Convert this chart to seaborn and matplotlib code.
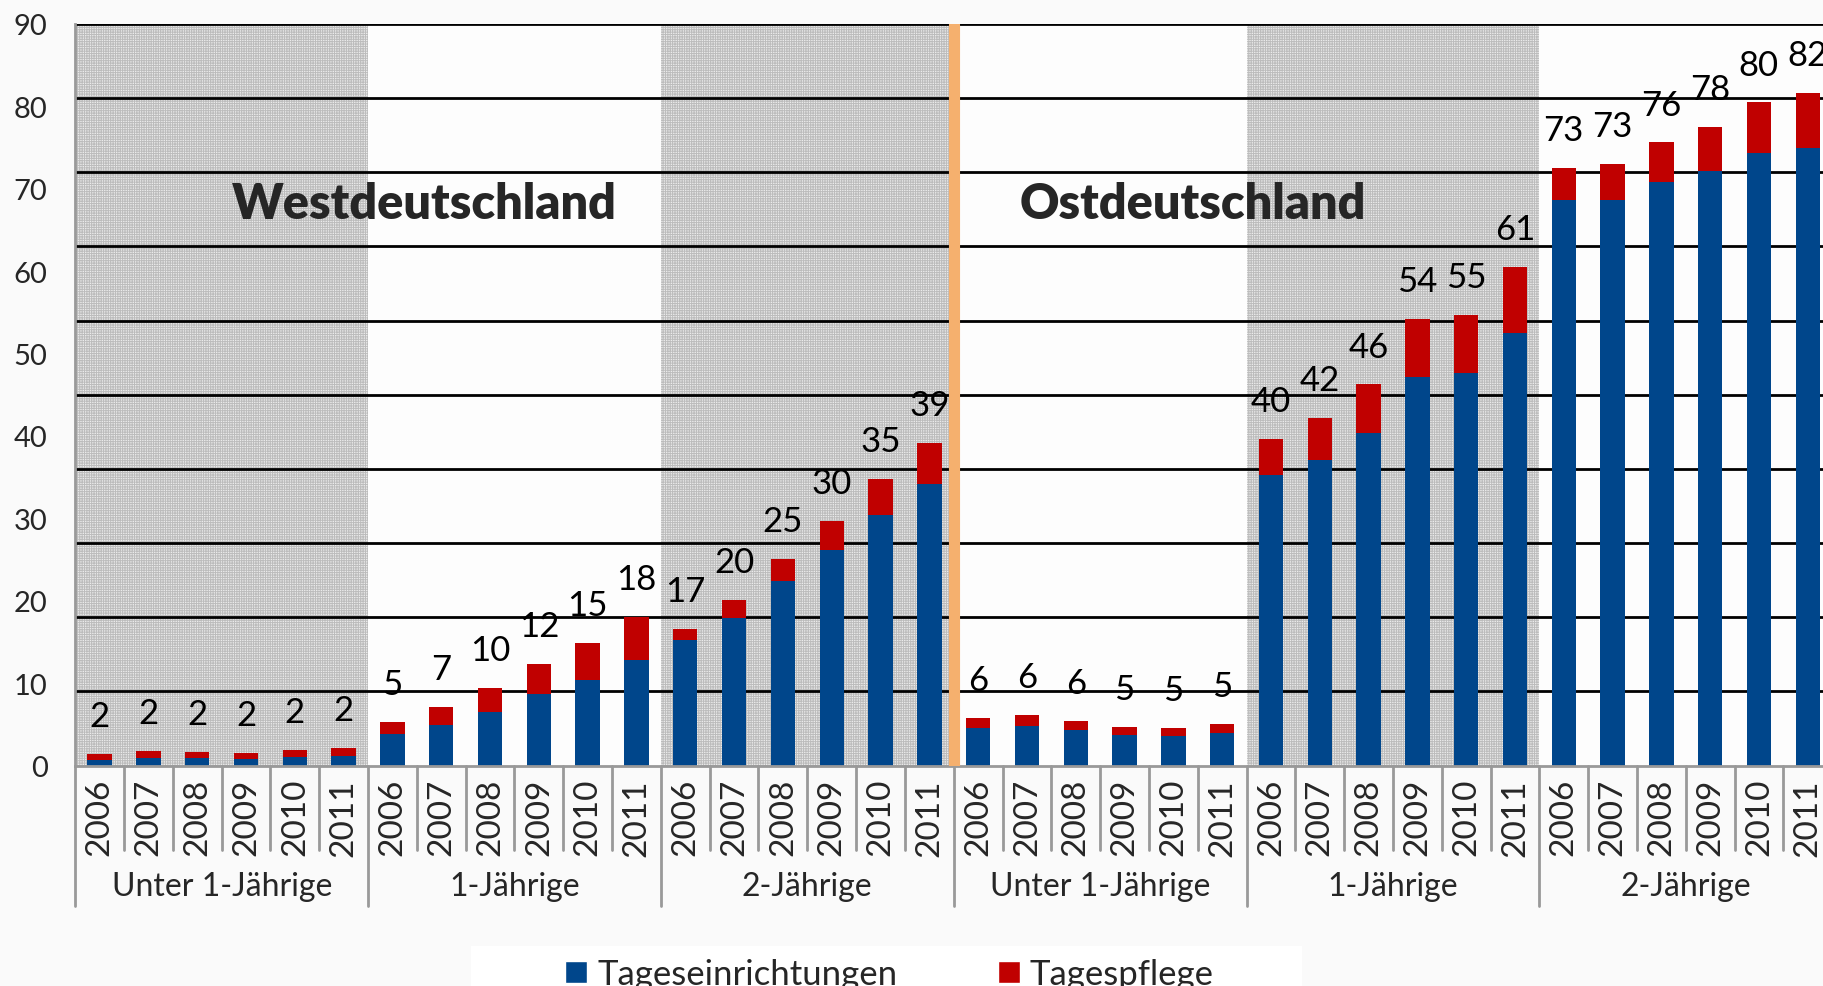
#!/usr/bin/env python3
# Betreuungsquoten West/Ost, gestapelte Balken

import pandas as pd
import matplotlib.pyplot as plt
import seaborn as sns
from matplotlib.patches import Patch, Rectangle

# Daten
years = ['2006', '2007', '2008', '2009', '2010', '2011']
age_groups = ['Unter 1-Jährige', '1-Jährige', '2-Jährige']
regions = ['Westdeutschland', 'Ostdeutschland']

tageseinrichtungen = [
    0.70, 0.87, 0.95, 0.83, 1.03, 1.15,
    3.80, 4.95, 6.54, 8.64, 10.42, 12.85,
    15.27, 17.94, 22.35, 26.12, 30.36, 34.17,
    4.55, 4.75, 4.26, 3.65, 3.56, 3.91,
    35.25, 37.08, 40.38, 47.13, 47.58, 52.46,
    68.69, 68.69, 70.80, 72.21, 74.32, 74.93,
]
tagespflege = [
    0.70, 0.85, 0.69, 0.69, 0.81, 0.94,
    1.50, 2.15, 2.91, 3.72, 4.41, 5.15,
    1.33, 2.11, 2.75, 3.52, 4.41, 5.01,
    1.21, 1.40, 1.19, 1.02, 1.03, 1.11,
    4.42, 5.09, 5.87, 7.12, 7.05, 8.00,
    3.81, 4.33, 4.82, 5.31, 6.15, 6.67,
]
gesamt_label = [
    2, 2, 2, 2, 2, 2,
    5, 7, 10, 12, 15, 18,
    17, 20, 25, 30, 35, 39,
    6, 6, 6, 5, 5, 5,
    40, 42, 46, 54, 55, 61,
    73, 73, 76, 78, 80, 82,
]

BLAU = '#00468b'
ROT = '#c00000'
ORANGE = '#f5b06e'

sns.set_theme(style='white')
plt.rcParams['font.family'] = ['Lato', 'DejaVu Sans']
plt.rcParams['hatch.linewidth'] = 0.7

df = pd.DataFrame({
    'pos': range(len(tageseinrichtungen)),
    'tageseinrichtungen': tageseinrichtungen,
    'tagespflege': tagespflege,
})
df['gesamt'] = df['tageseinrichtungen'] + df['tagespflege']

fig = plt.figure(figsize=(18.23, 9.87), dpi=100, facecolor='#fafafa')
ax = fig.add_axes([0.0413, 0.2234, 0.9637, 0.7513])
ax.set_facecolor('#fdfdfd')

# graue, gemusterte Hintergrundfelder
for start in [0, 12, 24]:
    ax.axvspan(start - 0.5, start + 5.5, facecolor='#ebebeb', edgecolor='#bcbcbc',
               hatch='+' * 7, linewidth=0, zorder=0)

# Gitterlinien (alle 9 Einheiten wie im Original)
for y in range(9, 91, 9):
    ax.axhline(y, color='black', linewidth=2, zorder=1)

# gestapelte Balken: erst Gesamt (rot), dann Tageseinrichtungen (blau) darüber
sns.barplot(data=df, x='pos', y='gesamt', color=ROT, width=0.5,
            saturation=1, linewidth=0, ax=ax, zorder=2)
sns.barplot(data=df, x='pos', y='tageseinrichtungen', color=BLAU, width=0.5,
            saturation=1, linewidth=0, ax=ax, zorder=2)

for i, row in df.iterrows():
    ax.text(i, row['gesamt'] + 4.6, str(gesamt_label[i]), ha='center', va='center',
            fontsize=25, color='black', zorder=4)

# Trennlinie West / Ost
ax.axvline(17.5, color=ORANGE, linewidth=8, zorder=3)

ax.text(6.65, 68.2, regions[0], ha='center', va='center', fontsize=35,
        fontweight='heavy', zorder=4)
ax.text(22.4, 68.2, regions[1], ha='center', va='center', fontsize=35,
        fontweight='heavy', zorder=4)

ax.set_xlim(-0.5, 35.5)
ax.set_ylim(0, 90)
ax.set_yticks(range(0, 91, 10))
ax.set_yticklabels([str(v) for v in range(0, 91, 10)], fontsize=21)
ax.set_xticks(range(36))
ax.set_xticklabels(years * 6, rotation=90, fontsize=24)
ax.tick_params(axis='both', length=0)
ax.tick_params(axis='y', pad=20)
ax.tick_params(axis='x', pad=9)
ax.set_xlabel('')
ax.set_ylabel('')

for side in ['top', 'right']:
    ax.spines[side].set_visible(False)
for side in ['left', 'bottom']:
    ax.spines[side].set_color('#999999')
    ax.spines[side].set_linewidth(2)

# Kategorie-Achse mit zwei Ebenen
trans = ax.get_xaxis_transform()
for k in range(37):
    bottom = -0.189 if k % 6 == 0 else -0.1136
    ax.plot([k - 0.5, k - 0.5], [0, bottom], color='#999999', linewidth=2,
            transform=trans, clip_on=False, zorder=1)
for g in range(6):
    ax.text(g * 6 + 2.5, -0.162, age_groups[g % 3], transform=trans,
            ha='center', va='center', fontsize=23)

# Legende
fig.patches.append(Rectangle((471 / 1823, 0), 831 / 1823, 40 / 987,
                             transform=fig.transFigure, facecolor='white',
                             edgecolor='none', zorder=0))
handles = [Patch(facecolor=BLAU, label='Tageseinrichtungen'),
           Patch(facecolor=ROT, label='Tagespflege')]
fig.legend(handles=handles, loc='center', bbox_to_anchor=(0.488, 0.012), ncol=2,
           frameon=False, fontsize=25, handlelength=0.62, handleheight=0.62,
           handletextpad=0.3, columnspacing=2.9)

fig.savefig('out.png', dpi=100, facecolor=fig.get_facecolor())
